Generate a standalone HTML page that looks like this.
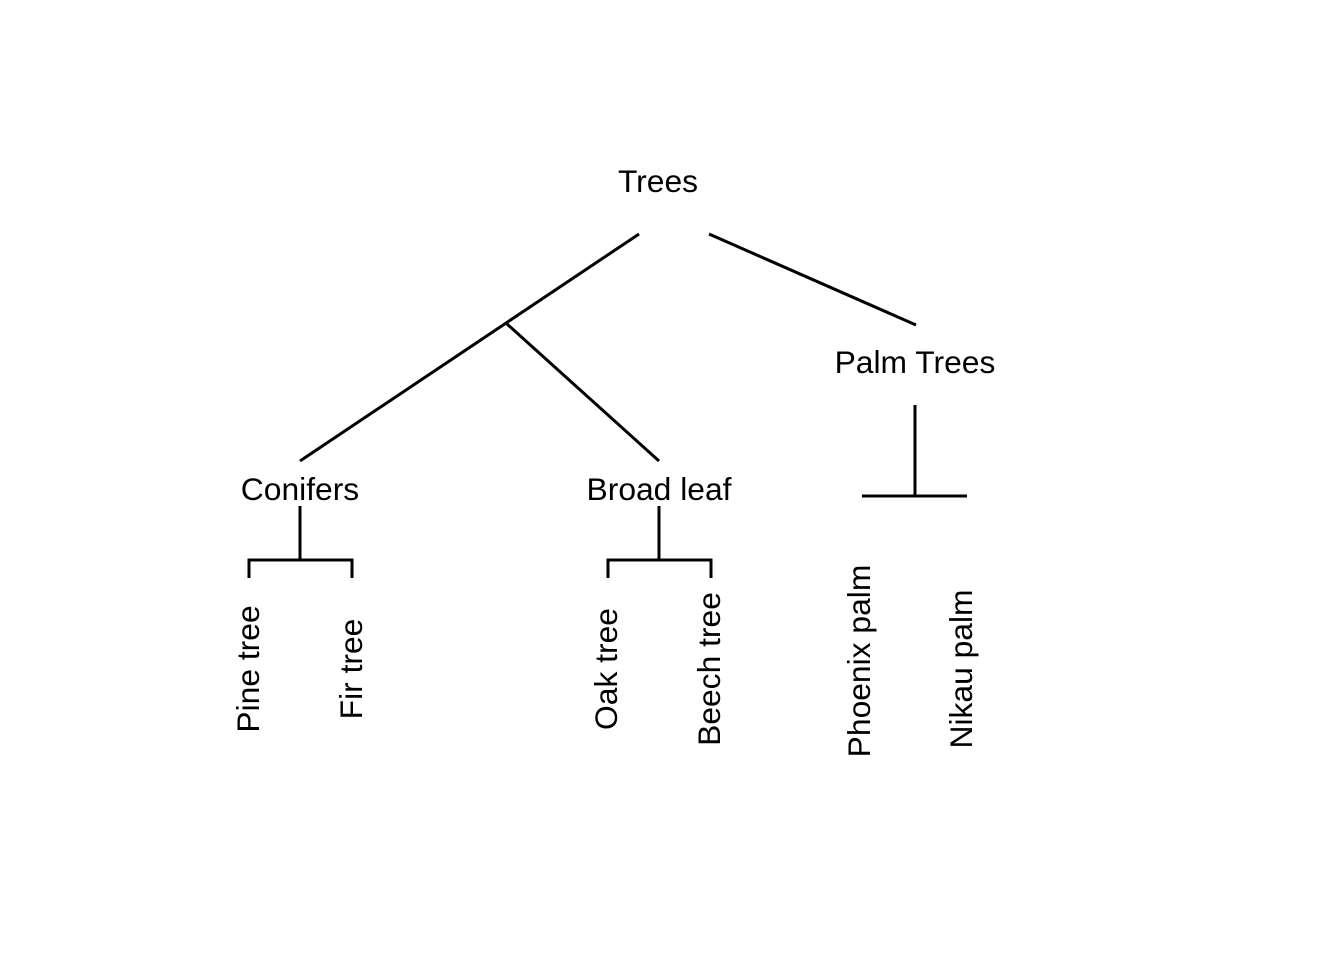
<!DOCTYPE html>
<html><head><meta charset="utf-8"><style>html,body{margin:0;padding:0;background:#fff}</style></head>
<body>
<svg width="1344" height="960" viewBox="0 0 1344 960" xmlns="http://www.w3.org/2000/svg" font-family="Liberation Sans, Arial, sans-serif" font-size="31.8" fill="#000">
<g stroke="#000" stroke-width="3" fill="none">
<line x1="639" y1="234" x2="300" y2="461"/>
<line x1="507" y1="324" x2="659" y2="461"/>
<line x1="709" y1="234" x2="916" y2="325"/>
<line x1="915" y1="405" x2="915" y2="496"/>
<line x1="862" y1="496" x2="967" y2="496"/>
<line x1="300" y1="506" x2="300" y2="560"/>
<polyline points="249,578 249,560 352,560 352,578"/>
<line x1="659" y1="506" x2="659" y2="560"/>
<polyline points="608,578 608,560 711,560 711,578"/>
</g>
<g text-anchor="middle">
<text x="658" y="192">Trees</text>
<text x="915" y="373">Palm Trees</text>
<text x="300" y="500">Conifers</text>
<text x="659" y="500">Broad leaf</text>
<text transform="translate(259,669) rotate(-90)">Pine tree</text>
<text transform="translate(362,669) rotate(-90)">Fir tree</text>
<text transform="translate(617,669) rotate(-90)">Oak tree</text>
<text transform="translate(720,669) rotate(-90)">Beech tree</text>
<text transform="translate(870,661) rotate(-90)">Phoenix palm</text>
<text transform="translate(972,669) rotate(-90)">Nikau palm</text>
</g>
</svg>
</body></html>
